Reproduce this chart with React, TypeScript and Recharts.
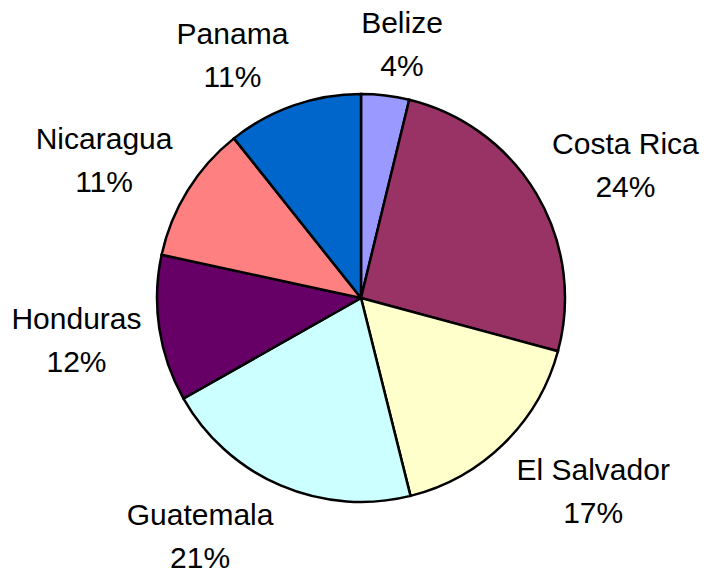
import React from 'react';
import { PieChart, Pie, Cell } from 'recharts';

const countries = ['Belize', 'Costa Rica', 'El Salvador', 'Guatemala', 'Honduras', 'Nicaragua', 'Panama'];
const shares = [3.8, 25.4, 16.9, 20.7, 11.6, 10.9, 10.7];
const shareLabels = ['4%', '24%', '17%', '21%', '12%', '11%', '11%'];
const colors = ['#9999FF', '#993366', '#FFFFCC', '#CCFFFF', '#660066', '#FF8080', '#0066CC'];

const data = countries.map((name, i) => ({ name, value: shares[i] }));

const FONT = '"Liberation Sans", Arial, sans-serif';
const FONT_SIZE = 30;
const LINE_GAP = 43;

let ctx: CanvasRenderingContext2D | null = null;
const textWidth = (s: string) => {
  if (!ctx) ctx = document.createElement('canvas').getContext('2d');
  if (!ctx) return s.length * FONT_SIZE * 0.55;
  ctx.font = `${FONT_SIZE}px "Liberation Sans"`;
  return ctx.measureText(s).width;
};

const clamp = (v: number, lo = -1, hi = 1) => Math.max(lo, Math.min(hi, v));

// outside-end labels, box pushed away from the pie like Excel does
const renderLabel = (props: any) => {
  const { cx, cy, midAngle, outerRadius, index } = props;
  const t = ((90 - midAngle) * Math.PI) / 180;
  const s = Math.sin(t);
  const c = Math.cos(t);
  const d = outerRadius + 18;
  const ax = cx + d * s;
  const ay = cy - d * c;
  const name = countries[index];
  const pct = shareLabels[index];
  const w = Math.max(textWidth(name), textWidth(pct));
  const bx = ax + (clamp(3 * s) * w) / 2;
  const fy = c >= 0 ? clamp(1.15 * c) : clamp(1.7 * c, -1, 0);
  const by = ay - fy * 34;
  const b1 = by - 10.75;
  return (
    <text x={bx} y={b1} textAnchor="middle" fill="#000" fontFamily={FONT} fontSize={FONT_SIZE}>
      <tspan x={bx} dy={0}>{name}</tspan>
      <tspan x={bx} dy={LINE_GAP}>{pct}</tspan>
    </text>
  );
};

export default function App() {
  return (
    <div style={{ position: 'absolute', left: 0, top: 0, background: '#fff' }}>
      <PieChart width={710} height={575} margin={{ top: 0, right: 0, bottom: 0, left: 0 }}>
        <Pie
          data={data}
          dataKey="value"
          nameKey="name"
          cx={361}
          cy={298}
          outerRadius={204}
          startAngle={90}
          endAngle={-270}
          stroke="#000"
          strokeWidth={2.5}
          label={renderLabel}
          labelLine={false}
          isAnimationActive={false}
        >
          {data.map((d, i) => (
            <Cell key={d.name} fill={colors[i]} />
          ))}
        </Pie>
      </PieChart>
    </div>
  );
}
